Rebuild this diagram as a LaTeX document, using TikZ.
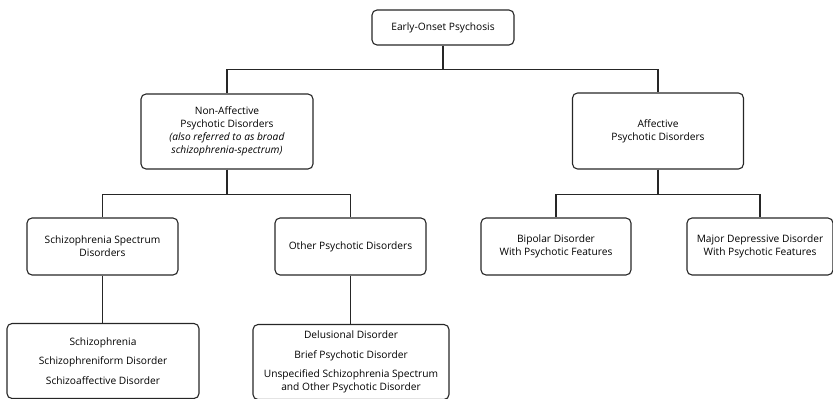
\documentclass[tikz,border=0pt]{standalone}
\usepackage{fontspec}
\setmainfont{Open Sans}
\begin{document}
\begin{tikzpicture}[
  x=1pt, y=-1pt,
  box/.style={draw=black!85, line width=1.1pt, rounded corners=5pt, align=center,
    inner sep=2pt, font=\fontsize{10.2}{13}\selectfont},
  link/.style={draw=black!85, line width=1.1pt}
]
  \useasboundingbox (0,0) rectangle (833,399);
  % level 0
  \node[box, minimum width=142pt, minimum height=35pt] (eop) at (443,27.5) {Early-Onset Psychosis};
  % level 1
  \node[box, minimum width=172pt, minimum height=75pt] (nonaff) at (227,131.5)
    {Non-Affective\\Psychotic Disorders\\\textit{(also referred to as broad}\\\textit{schizophrenia-spectrum)}};
  \node[box, minimum width=171pt, minimum height=76pt] (aff) at (658,131)
    {Affective\\Psychotic Disorders};
  % level 2
  \node[box, minimum width=151pt, minimum height=57pt] (spec) at (102.5,246.5)
    {Schizophrenia Spectrum\\Disorders};
  \node[box, minimum width=151pt, minimum height=57pt] (other) at (350.5,246.5)
    {Other Psychotic Disorders};
  \node[box, minimum width=150pt, minimum height=57pt] (bip) at (556,246.5)
    {Bipolar Disorder\\With Psychotic Features};
  \node[box, minimum width=146pt, minimum height=57pt] (mdd) at (760,246.5)
    {Major Depressive Disorder\\With Psychotic Features};
  % level 3
  \node[box, minimum width=192pt, minimum height=75pt] (speclist) at (103,361)
    {Schizophrenia\\[6.5pt]Schizophreniform Disorder\\[6.5pt]Schizoaffective Disorder};
  \node[box, minimum width=196pt, minimum height=75pt] (otherlist) at (351,362)
    {Delusional Disorder\\[6.5pt]Brief Psychotic Disorder\\[6.5pt]Unspecified Schizophrenia Spectrum\\and Other Psychotic Disorder};
  % connectors
  \draw[link] (eop.south) -- ++(0,24) -| (nonaff.north);
  \draw[link] (eop.south) -- ++(0,24) -| (aff.north);
  \draw[link] (nonaff.south) -- ++(0,25) -| (spec.north);
  \draw[link] (nonaff.south) -- ++(0,25) -| (other.north);
  \draw[link] (aff.south) -- ++(0,25) -| (bip.north);
  \draw[link] (aff.south) -- ++(0,25) -| (mdd.north);
  \draw[link] (spec.south) -- (spec.south |- speclist.north);
  \draw[link] (other.south) -- (other.south |- otherlist.north);
\end{tikzpicture}
\end{document}
